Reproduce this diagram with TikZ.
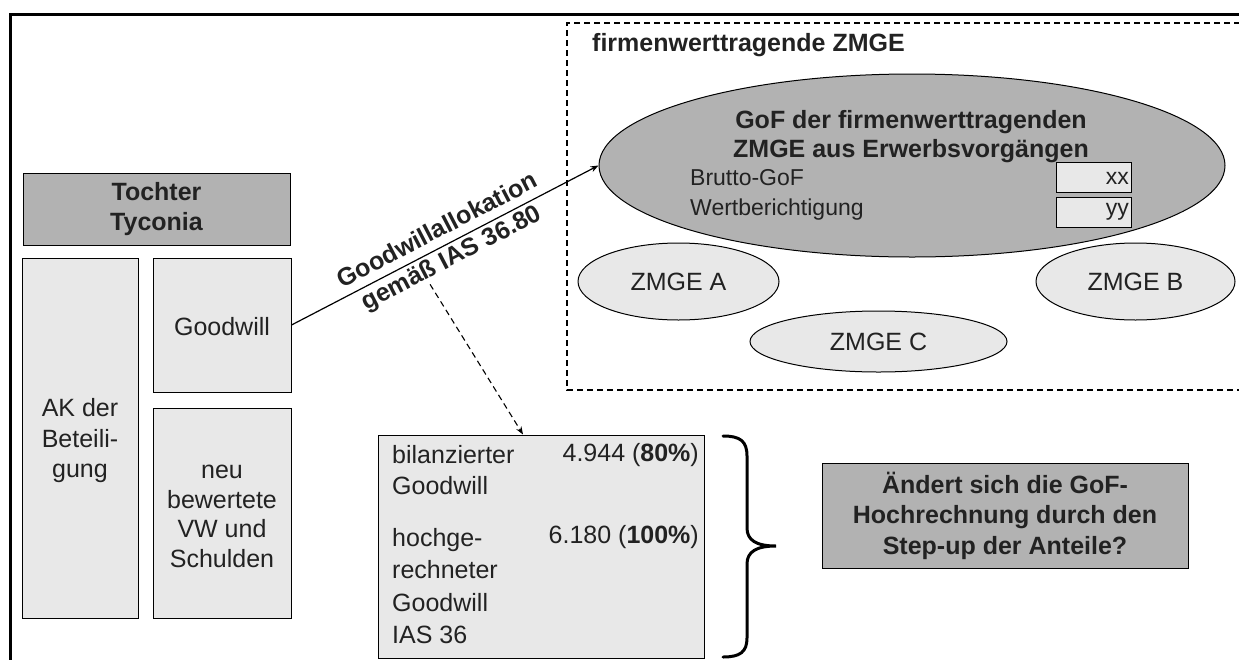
\documentclass[tikz,border=0pt]{standalone}
\usepackage{fontspec}
\setmainfont{Liberation Sans}
\usetikzlibrary{shapes.geometric,arrows.meta,calc}
\definecolor{darkfill}{HTML}{B2B2B2}
\definecolor{lightfill}{HTML}{E8E8E8}
\definecolor{ink}{HTML}{222222}

\begin{document}
\begin{tikzpicture}[x=1pt,y=-1pt,
  txt/.style={font=\fontsize{25}{30.5}\selectfont, text=ink, inner sep=0pt},
  small/.style={font=\fontsize{23}{28}\selectfont, text=ink, inner sep=0pt},
  bold/.style={font=\fontsize{25}{30}\bfseries\selectfont, text=ink, inner sep=0pt},
  card/.style={draw, line width=1pt, fill=lightfill, inner sep=0pt},
  darkcard/.style={draw, line width=1pt, fill=darkfill, inner sep=0pt},
  oval/.style={ellipse, draw, line width=1pt, inner sep=0pt},
  conn/.style={line width=1.2pt, -{Stealth[length=8pt,width=6pt]}},
  dconn/.style={line width=1.1pt, dash pattern=on 6pt off 4pt, -{Stealth[length=8pt,width=6pt]}}
]
\useasboundingbox (0,0) rectangle (1239,659);
\clip (0,0) rectangle (1239,659);

% outer frame (runs off the page at right and bottom)
\draw[line width=3pt] (10.5,700) -- (10.5,14) -- (1280,14);

% dashed region of the goodwill-carrying cash generating units
\draw[line width=1.1pt, dash pattern=on 6pt off 4pt] (1280,23) -- (567,23) -- (567,390) -- (1280,390);
\node[bold, anchor=west] (zmgetitle) at (592,45) {firmenwerttragende ZMGE};

% large ellipse with GoF summary
\node[oval, fill=darkfill, minimum width=626pt, minimum height=183pt] (gof) at (912,165.5) {};
\node[bold, align=center, font=\fontsize{25}{29}\bfseries\selectfont] (goftxt) at (911,136.5)
  {GoF der firmenwerttragenden\\ZMGE aus Erwerbsvorgängen};
\node[small, anchor=west] (brutto) at (690,178) {Brutto-GoF};
\node[small, anchor=west] (wb) at (690,210) {Wertberichtigung};
\node[card, minimum width=75pt, minimum height=30pt] (xx) at (1093.5,177) {};
\node[small, anchor=east] (xxt) at (1129,178) {xx};
\node[card, minimum width=75pt, minimum height=30pt] (yy) at (1093.5,212) {};
\node[small, anchor=east] (yyt) at (1129,212) {yy};

% individual units
\node[oval, fill=lightfill, minimum width=201pt, minimum height=77pt, txt] (za) at (678.5,281.5) {ZMGE A};
\node[oval, fill=lightfill, minimum width=199pt, minimum height=77pt, txt] (zb) at (1135.5,281.5) {ZMGE B};
\node[oval, fill=lightfill, minimum width=257pt, minimum height=61pt, txt] (zc) at (878.5,341.5) {ZMGE C};

% subsidiary balance sheet
\node[darkcard, bold, align=center, minimum width=267pt, minimum height=72pt] (toc) at (156.5,209) {Tochter\\Tyconia};
\node[card, minimum width=116pt, minimum height=360pt] (ak) at (80,438) {};
\node[txt, align=center] (aktxt) at (80,441) {AK der\\Beteili-\\gung};
\node[card, minimum width=138pt, minimum height=134pt] (gw) at (222,325) {};
\node[txt] (gwtxt) at (222,327) {Goodwill};
\node[card, minimum width=138pt, minimum height=210pt] (vw) at (222,513) {};
\node[txt, align=center, font=\fontsize{25}{29.7}\selectfont] (vwtxt) at (222,516.5) {neu\\bewertete\\VW und\\Schulden};

% allocation arrow
\draw[conn] (gw.east) -- node[sloped, bold, align=center, font=\fontsize{25}{31}\bfseries\selectfont, pos=0.5] (lbl)
  {Goodwillallokation\\gemäß IAS 36.80} (gof.west);

% goodwill figures
\node[card, minimum width=326pt, minimum height=223pt] (res) at (541,546.5) {};
\node[txt, align=left] (r1) at (392,470) [anchor=west] {bilanzierter\\Goodwill};
\node[txt, align=left, font=\fontsize{25}{32.5}\selectfont] (r2) at (392,586) [anchor=west] {hochge-\\rechneter\\Goodwill\\IAS 36};
\node[txt, anchor=east] (n1) at (699,455) {4.944 (\textbf{80\%})};
\node[txt, anchor=east] (n2) at (699,537) {6.180 (\textbf{100\%})};

\coordinate (d0) at ($(lbl.south)!0.28!(lbl.south west)$);
\coordinate (d1) at ([xshift=-18pt]res.north);
\draw[dconn] (d0) -- (d1);

% curly brace
\draw[line width=3pt, line cap=round] (723,436) .. controls (740,436) and (747,441) .. (747,456)
  -- (747,528) .. controls (747,540) and (756,546) .. (776,546)
  .. controls (756,546) and (747,552) .. (747,564)
  -- (747,638) .. controls (747,652) and (740,657) .. (723,657);

% question box
\node[darkcard, bold, align=center, font=\fontsize{25}{30.5}\bfseries\selectfont, minimum width=366pt, minimum height=105pt] (q) at (1005,515.5)
  {Ändert sich die GoF-\\Hochrechnung durch den\\Step-up der Anteile?};
\end{tikzpicture}
\end{document}
